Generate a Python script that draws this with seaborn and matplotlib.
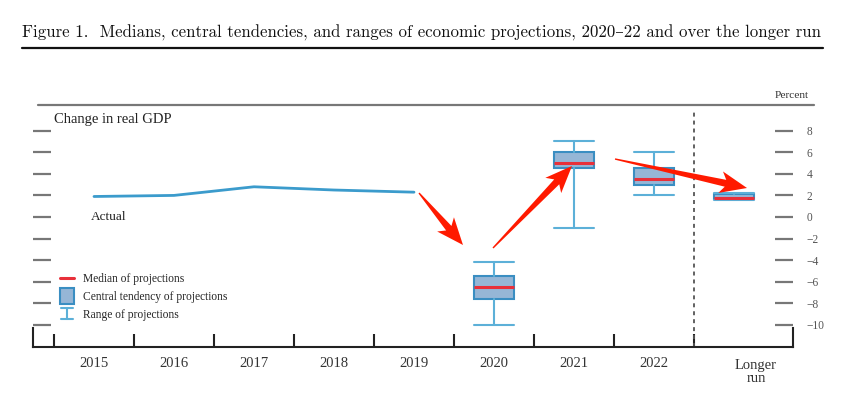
import numpy as np
import matplotlib
matplotlib.use("Agg")
import matplotlib.pyplot as plt
import seaborn as sns
from matplotlib.lines import Line2D
from matplotlib.patches import Patch, Rectangle, Polygon
from matplotlib.legend_handler import HandlerBase
from matplotlib.transforms import blended_transform_factory

# actual GDP growth, Q4/Q4
years = [2015, 2016, 2017, 2018, 2019]
gdp_actual = [1.9, 2.0, 2.8, 2.5, 2.3]

# projections
proj_labels = ["2020", "2021", "2022", "Longer run"]
median = [-6.5, 5.0, 3.5, 1.8]
ct_low = [-7.6, 4.5, 3.0, 1.7]
ct_high = [-5.5, 6.0, 4.5, 2.1]
range_low = [-10.0, -1.0, 2.0, 1.6]
range_high = [-4.2, 7.0, 6.0, 2.2]

year_ticks = ["2015", "2016", "2017", "2018", "2019", "2020", "2021", "2022"]
y_ticks = [-10, -8, -6, -4, -2, 0, 2, 4, 6, 8]

LINE_C = "#3b9bcc"
BOX_FACE = "#96b6d6"
BOX_EDGE = "#3a8ec2"
WHISK_C = "#5cb0d8"
MED_C = "#e8303a"
ARROW_C = "#ff1a00"

W, H = 865, 416

sns.set_style("white")
plt.rcParams["font.family"] = ["Liberation Serif", "DejaVu Serif"]

fig = plt.figure(figsize=(W / 100, H / 100), dpi=100)
ax = fig.add_axes([33 / W, (H - 347) / H, 760 / W, 242 / H])

x0, x1 = 2014.2375, 2023.7375
y0, y1 = -12.05, 10.38

sns.lineplot(x=years, y=gdp_actual, ax=ax, color=LINE_C, lw=2)

positions = [2020, 2021, 2022, 2023]
stats = []
for i in range(len(proj_labels)):
    stats.append(dict(med=median[i], q1=ct_low[i], q3=ct_high[i],
                      whislo=range_low[i], whishi=range_high[i], fliers=[]))
ax.bxp(stats, positions=positions, widths=0.5, capwidths=0.5,
       patch_artist=True, showfliers=False, manage_ticks=False,
       boxprops=dict(facecolor=BOX_FACE, edgecolor=BOX_EDGE, linewidth=1.5),
       whiskerprops=dict(color=WHISK_C, linewidth=1.5),
       capprops=dict(color=WHISK_C, linewidth=1.5),
       medianprops=dict(color=MED_C, linewidth=2.2))

ax.set_xlim(x0, x1)
ax.set_ylim(y0, y1)

# dashed separator before the longer run
ax.axvline(2022.5, ymin=0, ymax=0.97, color="#555555", lw=1.3, ls=(0, (2.2, 2.2)))

# x axis
ax.set_xticks(list(range(2015, 2023)))
ax.set_xticklabels(year_ticks)
ax.set_xticks(np.arange(2014.5, 2023, 1.0), minor=True)
ax.tick_params(axis="x", which="major", length=0, pad=7, labelsize=10.5, labelcolor="#333333")
ax.tick_params(axis="x", which="minor", direction="in", length=9.5, width=1.5, color="#222222", bottom=True)
ax.text(2023.275, -12 / 242, "Longer\nrun", transform=blended_transform_factory(ax.transData, ax.transAxes),
        ha="center", va="top", fontsize=10.5, color="#333333", linespacing=1.0)

# y axis
ax.set_yticks(y_ticks)
ax.set_yticklabels([str(v).replace("-", "\u2212") for v in y_ticks])
ax.tick_params(axis="y", which="major", direction="in", length=13, width=1.6, color="#777777",
               left=True, right=True, labelleft=False, labelright=True, pad=10,
               labelsize=8.3, labelcolor="#555555")
ax.set_xlabel("")
ax.set_ylabel("")

ax.spines["top"].set_visible(False)
ax.spines["bottom"].set_color("#222222")
ax.spines["bottom"].set_linewidth(1.5)
for side in ["left", "right"]:
    ax.spines[side].set_color("#222222")
    ax.spines[side].set_linewidth(1.5)
    ax.spines[side].set_bounds(y0, y0 + 1.75)

ax.text(21 / 760, (347 - 119) / 242, "Change in real GDP", transform=ax.transAxes,
        ha="left", va="center", fontsize=10.5, color="#222222")
ax.text(58 / 760, (347 - 217) / 242, "Actual", transform=ax.transAxes,
        ha="left", va="center", fontsize=9.5, color="#222222")


class TallBoxHandler(HandlerBase):
    def create_artists(self, legend, orig_handle, xdescent, ydescent, width, height, fontsize, trans):
        h = height * 2.0
        rect = Rectangle((-xdescent, -ydescent + height / 2 - h / 2), width, h,
                         facecolor=BOX_FACE, edgecolor=BOX_EDGE, lw=1.5, transform=trans)
        return [rect]


class RangeHandler(HandlerBase):
    def create_artists(self, legend, orig_handle, xdescent, ydescent, width, height, fontsize, trans):
        cx = -xdescent + width / 2
        top = -ydescent + height / 2 + height * 0.7
        bot = -ydescent + height / 2 - height * 0.7
        hw = width * 0.4
        kw = dict(color=WHISK_C, lw=1.5, transform=trans)
        return [Line2D([cx, cx], [bot, top], **kw),
                Line2D([cx - hw, cx + hw], [top, top], **kw),
                Line2D([cx - hw, cx + hw], [bot, bot], **kw)]


med_h = Line2D([], [], color=MED_C, lw=2.2)
box_h = Patch()
rng_h = Line2D([], [])
ax.legend(handles=[med_h, box_h, rng_h],
          labels=["Median of projections", "Central tendency of projections", "Range of projections"],
          loc="upper left", bbox_to_anchor=(60 / W, (H - 273) / H), bbox_transform=fig.transFigure,
          frameon=False, fontsize=8.3, handlelength=1.25, handletextpad=0.75, labelspacing=0.5,
          borderpad=0, borderaxespad=0,
          handler_map={box_h: TallBoxHandler(), rng_h: RangeHandler()})

# title and rules
fig.text(22 / W, (H - 33) / H,
         "Figure 1.  Medians, central tendencies, and ranges of economic projections, 2020\u201322 and over the longer run",
         ha="left", va="center", fontsize=12.15, family=["cmr10", "DejaVu Serif"], color="#111111")
fig.add_artist(Line2D([22 / W, 823 / W], [(H - 48) / H] * 2, transform=fig.transFigure,
                      color="#111111", lw=1.6))
fig.add_artist(Line2D([38 / W, 814 / W], [(H - 105) / H] * 2, transform=fig.transFigure,
                      color="#777777", lw=1.6))
fig.text(809 / W, (H - 96) / H, "Percent", ha="right", va="center", fontsize=8.2, color="#333333")


def red_arrow(tail, tip, head_len=22, head_hw=11, neck_hw=3.5, tail_hw=0.7, sweep=5):
    # tail and tip are pixel positions measured from the top left of the picture
    p0 = np.array(tail, float)
    p1 = np.array(tip, float)
    d = p1 - p0
    L = np.hypot(*d)
    u = d / L
    n = np.array([-u[1], u[0]])
    pts = [
        p0 + n * tail_hw,
        p0 + u * (L - head_len) + n * neck_hw,
        p0 + u * (L - head_len - sweep) + n * head_hw,
        p1,
        p0 + u * (L - head_len - sweep) - n * head_hw,
        p0 + u * (L - head_len) - n * neck_hw,
        p0 - n * tail_hw,
    ]
    pts = [(x / W, 1 - y / H) for x, y in pts]
    fig.add_artist(Polygon(pts, closed=True, transform=fig.transFigure,
                           facecolor=ARROW_C, edgecolor="none", zorder=10))


red_arrow((419, 193), (463, 245))
red_arrow((493, 248), (572, 166))
red_arrow((615, 159), (747, 188))

fig.savefig("out.png", dpi=100)
